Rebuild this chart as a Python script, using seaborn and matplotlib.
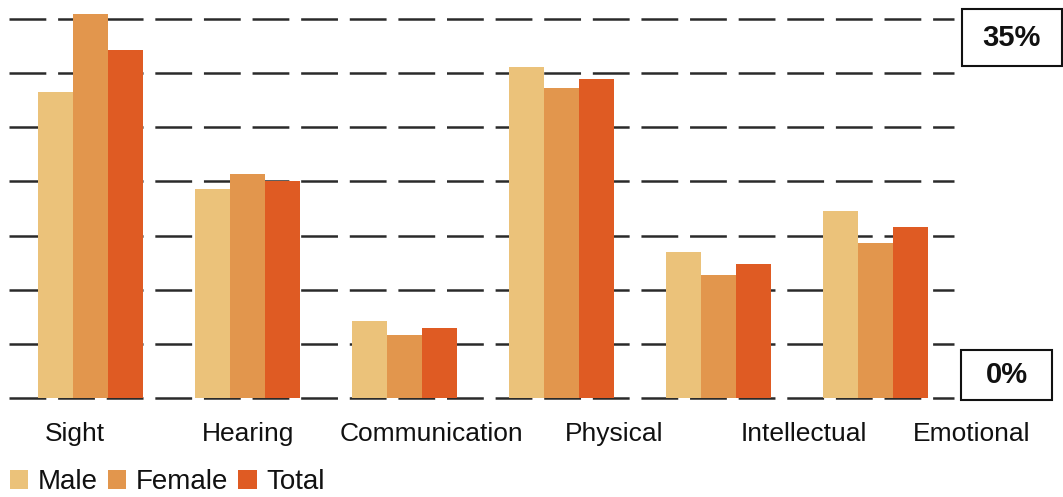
import matplotlib
matplotlib.use("Agg")
import matplotlib.pyplot as plt
import matplotlib.transforms as mtransforms
from matplotlib.patches import Rectangle
import pandas as pd
import seaborn as sns

# Share of people by type of disability (%)
categories = ["Sight", "Hearing", "Communication", "Physical", "Intellectual", "Emotional"]
series_names = ["Male", "Female", "Total"]
male = [28.3, 19.3, 7.1, 30.6, 13.5, 17.3]
female = [35.5, 20.7, 5.8, 28.6, 11.4, 14.3]
total = [32.1, 20.0, 6.5, 29.5, 12.4, 15.8]
axis_min_label = "0%"
axis_max_label = "35%"
axis_max = 35

colors = ["#EBC27A", "#E2964D", "#DF5B23"]

sns.set_theme(style="white")
plt.rcParams["font.family"] = ["Liberation Sans", "DejaVu Sans"]
plt.rcParams["lines.scale_dashes"] = False

df = pd.DataFrame({
    "category": categories * 3,
    "value": male + female + total,
    "series": [s for s in series_names for _ in categories],
})

W, H = 1063, 497
fig = plt.figure(figsize=(W / 100, H / 100), dpi=100)

def fx(px):
    return px / W

def fy(py):
    return (H - py) / H

# axes frame: y = 0 at row 398, y = 35 at row 19
px_per_unit = (398 - 19) / axis_max
ymax = 36.5
ax = fig.add_axes([fx(8.5), fy(398), fx(954) - fx(8.5), (ymax * px_per_unit) / H])

sns.barplot(data=df, x="category", y="value", hue="series", palette=colors,
            width=0.67, gap=0, saturation=1, linewidth=0, ax=ax, zorder=3)

ax.set_ylim(0, ymax)
ax.set_xlim(-0.52, 5.5)
ax.set_yticks(range(0, axis_max + 1, 5))
ax.set_yticklabels([])
ax.yaxis.grid(True, color="#2a2a2a", linewidth=1.8, linestyle=(0, (26.5, 8.5)), zorder=0)
for gl in ax.get_ygridlines():
    gl.set_clip_on(False)
ax.set_axisbelow(True)
for s in ax.spines.values():
    s.set_visible(False)
ax.set_xlabel("")
ax.set_ylabel("")
ax.tick_params(axis="both", length=0)
ax.tick_params(axis="x", pad=17, labelsize=19, labelcolor="#111111")
ax.tick_params(axis="y", pad=0)

# horizontal shifts of category labels (pixels)
label_shift = [-15.5, 0.5, 27.5, 53, 85, 96.5]
for lab, dx in zip(ax.get_xticklabels(), label_shift):
    lab.set_transform(lab.get_transform() +
                      mtransforms.ScaledTranslation(dx / 100, 0, fig.dpi_scale_trans))

# legend along the bottom
handles, labels = ax.get_legend_handles_labels()
ax.get_legend().remove()
fig.legend(handles, labels, loc="center left", bbox_to_anchor=(fx(10), fy(482)),
           bbox_transform=fig.transFigure, ncol=3, frameon=False, fontsize=20,
           handlelength=0.65, handleheight=0.65, handletextpad=0.36,
           columnspacing=0.36, borderpad=0, borderaxespad=0, labelcolor="#111111")

# boxed axis-extent labels on the right
def boxed(label, x0, y0, x1, y1):
    fig.add_artist(Rectangle((fx(x0), fy(y1)), fx(x1) - fx(x0), fy(y0) - fy(y1),
                             transform=fig.transFigure, fill=False,
                             edgecolor="#111111", linewidth=1.5))
    fig.text(fx((x0 + x1) / 2), fy((y0 + y1) / 2), label, ha="center", va="center",
             fontsize=21, fontweight="bold", color="#111111")

boxed(axis_max_label, 962, 9.5, 1061.5, 66)
boxed(axis_min_label, 961, 350, 1052, 400)

fig.savefig("out.png", dpi=100)
